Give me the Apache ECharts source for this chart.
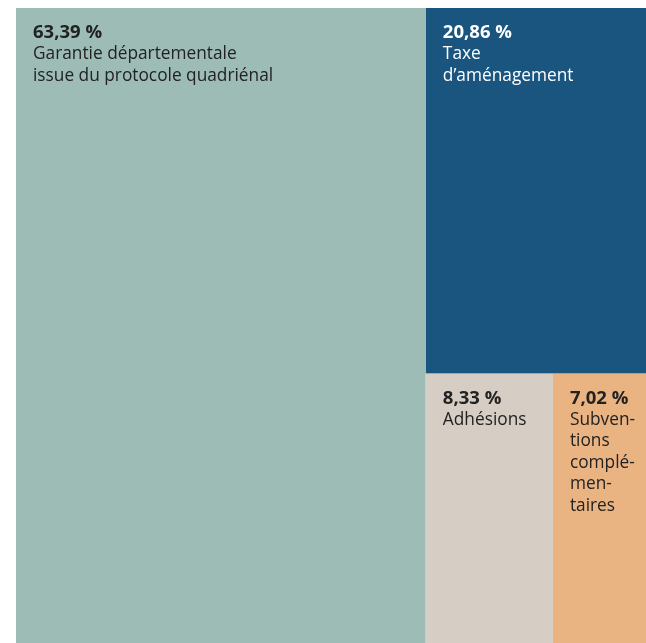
<!DOCTYPE html>
<html><head><meta charset="utf-8">
<script src="https://cdn.jsdelivr.net/npm/echarts@6/dist/echarts.min.js"></script>
<style>html,body{margin:0;padding:0;background:#fff;overflow:hidden}#c{width:660px;height:643px}</style>
</head><body><div id="c"></div>
<script>
const names = ["Garantie départementale\nissue du protocole quadriénal", "Taxe\nd’aménagement", "Adhésions", "Subven-\ntions\ncomplé-\nmen-\ntaires"];
const values = [63.39, 20.86, 8.33, 7.02];
const pctLabels = ["63,39 %", "20,86 %", "8,33 %", "7,02 %"];
const colors = ["#9dbcb5", "#1a557f", "#d6cdc4", "#eab482"];
const textColors = ["#222222", "#ffffff", "#222222", "#222222"];

function leaf(i) {
  return {
    name: names[i],
    value: values[i],
    itemStyle: { color: colors[i] },
    label: {
      formatter: '{p|' + pctLabels[i] + '}\n{n|' + names[i].split('\n').join('}\n{n|') + '}',
      rich: {
        p: { fontFamily: 'Open Sans', fontWeight: 'bold', fontSize: 18.5, lineHeight: 21.5, color: textColors[i] },
        n: { fontFamily: 'Open Sans', fontSize: 17.3, lineHeight: 21.5, color: textColors[i] }
      }
    }
  };
}
const sum = (a) => a.reduce((s, v) => s + v, 0);
// hierarchy: main block | (tax / (adhesions | subventions))
const data = [
  leaf(0),
  {
    name: 'rest', value: sum(values.slice(1)),
    children: [
      leaf(1),
      { name: 'rest2', value: sum(values.slice(2)), children: [leaf(2), leaf(3)] }
    ]
  }
];

const chart = echarts.init(document.getElementById('c'), null, { renderer: 'canvas' });
const noGap = { itemStyle: { borderWidth: 0, gapWidth: 0 }, upperLabel: { show: false } };
chart.setOption({
  animation: false,
  series: [{
    type: 'treemap',
    left: 16, top: 8, right: 0, bottom: 0,
    roam: false, nodeClick: false,
    breadcrumb: { show: false },
    sort: false,
    squareRatio: 1.3,
    itemStyle: { borderWidth: 0, gapWidth: 0, borderColor: '#fff' },
    levels: [noGap, noGap, noGap, noGap],
    label: { show: true, position: [12, 9], overflow: 'none' },
    upperLabel: { show: false },
    data: data
  }]
});
</script></body></html>
